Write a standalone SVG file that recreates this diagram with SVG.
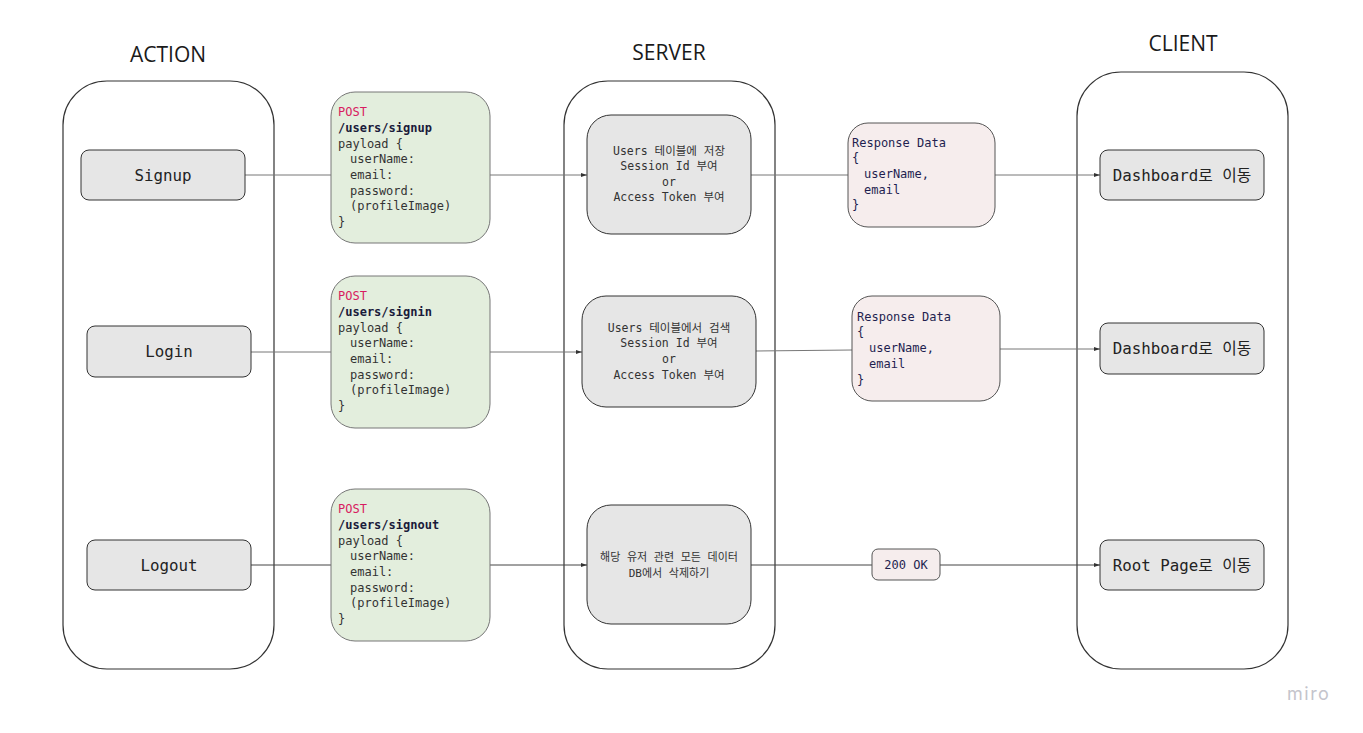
<svg xmlns="http://www.w3.org/2000/svg" width="1363" height="733" viewBox="0 0 1363 733">
<defs>
<style>
.title{font-family:"Open Sans","Liberation Sans",sans-serif;font-size:21px;fill:#1a1a1a;text-anchor:middle}
.lane{fill:#fff;stroke:#333;stroke-width:1.2}
.act{fill:#e6e6e6;stroke:#333;stroke-width:1}
.pay{fill:#e3eedd;stroke:#777;stroke-width:1}
.srv{fill:#e6e6e6;stroke:#333;stroke-width:1}
.resp{fill:#f6eded;stroke:#555;stroke-width:1}
.big{font-family:"DejaVu Sans Mono","Noto Sans CJK KR",monospace;font-size:15.8px;fill:#222;text-anchor:middle;dominant-baseline:central}
.mono{font-family:"DejaVu Sans Mono","Noto Sans CJK KR",monospace;font-size:12px;fill:#333}
.srvt{font-family:"DejaVu Sans Mono","Noto Sans CJK KR",monospace;font-size:11.5px;fill:#333;text-anchor:middle}
.post{fill:#d81b60}
.path{font-weight:bold;fill:#1a1a3a}
.rt{font-family:"DejaVu Sans Mono","Noto Sans CJK KR",monospace;font-size:12px;fill:#1f1f50}
.edge{fill:none;stroke:#777;stroke-width:1}
.edge3{fill:none;stroke:#444;stroke-width:1}
.miro{font-family:"Inter","Liberation Sans",sans-serif;font-size:18px;fill:#c4c4cc;letter-spacing:1.5px}
</style>
<marker id="arr" viewBox="0 0 10 10" refX="10" refY="5" markerWidth="6" markerHeight="6" orient="auto" markerUnits="userSpaceOnUse">
<path d="M0,1.5 L10,5 L0,8.5 z" fill="#333"/>
</marker>
</defs>

<g id="lane-action">
<rect class="lane" x="63" y="81" width="211" height="588" rx="44"/>
<text class="title" x="168" y="62">ACTION</text>
</g>
<g id="lane-server">
<rect class="lane" x="564" y="81" width="211" height="588" rx="44"/>
<text class="title" x="669" y="60">SERVER</text>
</g>
<g id="lane-client">
<rect class="lane" x="1077" y="72" width="211" height="597" rx="44"/>
<text class="title" x="1183" y="51">CLIENT</text>
</g>

<g id="connectors">
<line class="edge" x1="245" y1="175" x2="331" y2="175"/>
<line class="edge" x1="490" y1="175" x2="587" y2="175" marker-end="url(#arr)"/>
<line class="edge" x1="751" y1="175" x2="848" y2="175"/>
<line class="edge" x1="995" y1="175" x2="1100" y2="175" marker-end="url(#arr)"/>

<line class="edge" x1="251" y1="352" x2="331" y2="352"/>
<line class="edge" x1="490" y1="352" x2="582" y2="352" marker-end="url(#arr)"/>
<line class="edge" x1="756" y1="351" x2="852" y2="350"/>
<line class="edge" x1="1000" y1="349" x2="1100" y2="349" marker-end="url(#arr)"/>

<line class="edge3" x1="251" y1="565" x2="331" y2="565"/>
<line class="edge3" x1="490" y1="565" x2="587" y2="565" marker-end="url(#arr)"/>
<line class="edge3" x1="751" y1="565" x2="872" y2="565"/>
<line class="edge3" x1="940" y1="565" x2="1100" y2="565" marker-end="url(#arr)"/>
</g>

<g id="signup">
<rect class="act" x="81" y="150" width="164" height="50" rx="8"/>
<text class="big" x="163" y="175">Signup</text>
</g>
<g id="login">
<rect class="act" x="87" y="326" width="164" height="51" rx="8"/>
<text class="big" x="169" y="351.5">Login</text>
</g>
<g id="logout">
<rect class="act" x="87" y="540" width="164" height="50" rx="8"/>
<text class="big" x="169" y="565">Logout</text>
</g>

<g id="payload-signup">
<rect class="pay" x="331" y="92" width="159" height="151" rx="24"/>
<text class="mono" x="338" y="116"><tspan class="post">POST</tspan></text>
<text class="mono path" x="338" y="132">/users/signup</text>
<text class="mono" x="338" y="147.5">payload {</text>
<text class="mono" x="350" y="163">userName:</text>
<text class="mono" x="350" y="179">email:</text>
<text class="mono" x="350" y="194.5">password:</text>
<text class="mono" x="350" y="210">(profileImage)</text>
<text class="mono" x="338" y="225.5">}</text>
</g>
<g id="payload-signin">
<rect class="pay" x="331" y="276" width="159" height="152" rx="24"/>
<text class="mono" x="338" y="300"><tspan class="post">POST</tspan></text>
<text class="mono path" x="338" y="316">/users/signin</text>
<text class="mono" x="338" y="331.5">payload {</text>
<text class="mono" x="350" y="347">userName:</text>
<text class="mono" x="350" y="363">email:</text>
<text class="mono" x="350" y="378.5">password:</text>
<text class="mono" x="350" y="394">(profileImage)</text>
<text class="mono" x="338" y="409.5">}</text>
</g>
<g id="payload-signout">
<rect class="pay" x="331" y="489" width="159" height="152" rx="24"/>
<text class="mono" x="338" y="513"><tspan class="post">POST</tspan></text>
<text class="mono path" x="338" y="529">/users/signout</text>
<text class="mono" x="338" y="544.5">payload {</text>
<text class="mono" x="350" y="560">userName:</text>
<text class="mono" x="350" y="576">email:</text>
<text class="mono" x="350" y="591.5">password:</text>
<text class="mono" x="350" y="607">(profileImage)</text>
<text class="mono" x="338" y="622.5">}</text>
</g>

<g id="server-signup">
<rect class="srv" x="587" y="115" width="164" height="119" rx="24"/>
<text class="srvt" x="669" y="155">Users 테이블에 저장</text>
<text class="srvt" x="669" y="170">Session Id 부여</text>
<text class="srvt" x="669" y="186">or</text>
<text class="srvt" x="669" y="201">Access Token 부여</text>
</g>
<g id="server-signin">
<rect class="srv" x="582" y="296" width="174" height="111" rx="24"/>
<text class="srvt" x="669" y="332">Users 테이블에서 검색</text>
<text class="srvt" x="669" y="347">Session Id 부여</text>
<text class="srvt" x="669" y="363">or</text>
<text class="srvt" x="669" y="379">Access Token 부여</text>
</g>
<g id="server-signout">
<rect class="srv" x="587" y="505" width="164" height="119" rx="24"/>
<text class="srvt" x="669" y="561" style="font-size:11px">해당 유저 관련 모든 데이터</text>
<text class="srvt" x="669" y="577" style="font-size:11px">DB에서 삭제하기</text>
</g>

<g id="response-signup">
<rect class="resp" x="848" y="123" width="147" height="104" rx="20"/>
<text class="rt" x="852" y="147">Response Data</text>
<text class="rt" x="852" y="162">{</text>
<text class="rt" x="864" y="178">userName,</text>
<text class="rt" x="864" y="194">email</text>
<text class="rt" x="852" y="209">}</text>
</g>
<g id="response-signin">
<rect class="resp" x="852" y="296" width="148" height="105" rx="20"/>
<text class="rt" x="857" y="321">Response Data</text>
<text class="rt" x="857" y="336">{</text>
<text class="rt" x="869" y="352">userName,</text>
<text class="rt" x="869" y="368">email</text>
<text class="rt" x="857" y="384">}</text>
</g>
<g id="response-signout">
<rect class="resp" x="872" y="549" width="68" height="31" rx="6"/>
<text class="rt" x="906" y="569" text-anchor="middle">200 OK</text>
</g>

<g id="client-dashboard-1">
<rect class="act" x="1100" y="150" width="164" height="50" rx="8"/>
<text class="big" x="1182" y="175">Dashboard로 이동</text>
</g>
<g id="client-dashboard-2">
<rect class="act" x="1100" y="323" width="164" height="51" rx="8"/>
<text class="big" x="1182" y="348.5">Dashboard로 이동</text>
</g>
<g id="client-root">
<rect class="act" x="1100" y="540" width="164" height="50" rx="8"/>
<text class="big" x="1182" y="565">Root Page로 이동</text>
</g>

<text class="miro" x="1287" y="700">miro</text>
</svg>
